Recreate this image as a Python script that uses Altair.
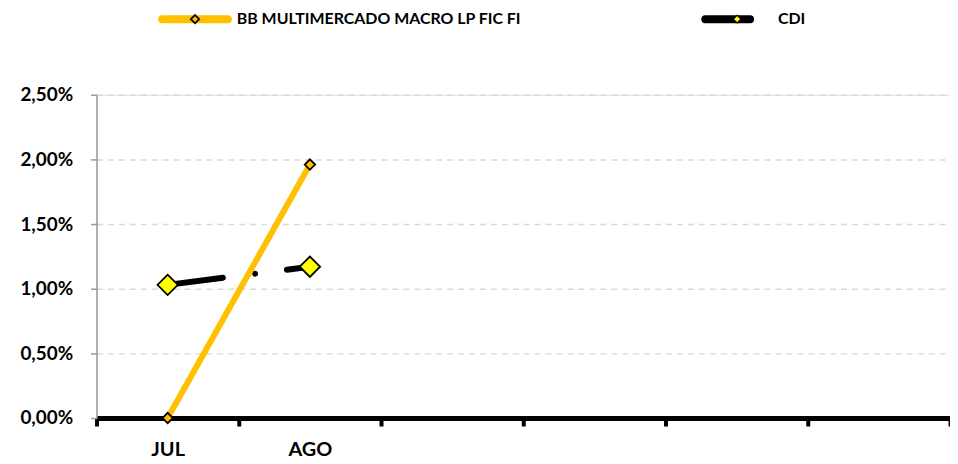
import altair as alt
import pandas as pd

months = ["JUL", "AGO"]
all_months = ["JUL", "AGO", "SET", "OUT", "NOV", "DEZ"]
fund = [0.0, 0.0196]
cdi = [0.0103, 0.0117]
fund_name = "BB MULTIMERCADO MACRO LP FIC FI"
cdi_name = "CDI"

df = pd.DataFrame({"mes": months, "fund": fund, "cdi": cdi})

FONT = "Lato"
x_enc = alt.X(
    "mes:N",
    sort=all_months,
    scale=alt.Scale(domain=all_months, paddingInner=0, paddingOuter=0),
    axis=alt.Axis(
        title=None,
        labelExpr="indexof(['JUL','AGO'], datum.value) >= 0 ? datum.value : ''",
        labelFont=FONT, labelFontSize=20, labelFontWeight="bold", labelColor="#000000",
        labelPadding=14, labelAngle=0,
        domainColor="#000000", domainWidth=5,
        tickColor="#000000", tickWidth=4, tickSize=8, tickBand="extent",
        grid=False,
    ),
)
y_axis = alt.Axis(
    title=None,
    values=[0, 0.005, 0.01, 0.015, 0.02, 0.025],
    labelExpr="replace(format(datum.value, '.2%'), '.', ',')",
    labelFont=FONT, labelFontSize=19, labelFontWeight="bold", labelColor="#000000",
    labelPadding=18,
    domainColor="#9a9a9a", domainWidth=1.5,
    tickColor="#9a9a9a", tickSize=6, tickWidth=1.5,
    grid=True, gridColor="#d9d9d9", gridDash=[6, 5], gridWidth=1.5,
)
y_scale = alt.Scale(domain=[0, 0.025], nice=False)

base = alt.Chart(df)

cdi_line = base.mark_line(
    color="#000000", strokeWidth=6, strokeCap="round",
    strokeDash=[56, 32.6, 0.01, 32.2, 60],
).encode(x=x_enc, y=alt.Y("cdi:Q", scale=y_scale, axis=y_axis))

fund_line = base.mark_line(color="#FFC000", strokeWidth=6).encode(
    x=x_enc, y=alt.Y("fund:Q", scale=y_scale, axis=y_axis)
)

fund_pts = base.mark_point(
    shape="diamond", filled=True, fill="#FFC000", stroke="#000000",
    strokeWidth=1.8, size=110, opacity=1,
).encode(x=x_enc, y=alt.Y("fund:Q", scale=y_scale))

cdi_pts = base.mark_point(
    shape="diamond", filled=True, fill="#FFFF00", stroke="#000000",
    strokeWidth=1.8, size=420, opacity=1,
).encode(x=x_enc, y=alt.Y("cdi:Q", scale=y_scale))

# legend
leg = alt.Chart(pd.DataFrame({"a": [fund_name], "b": [cdi_name]}))
LY = -76
leg_fund_line = leg.mark_rule(color="#FFC000", strokeWidth=8, strokeCap="round").encode(
    x=alt.value(66), x2=alt.value(132), y=alt.value(LY)
)
leg_fund_pt = leg.mark_point(
    shape="diamond", filled=True, fill="#FFC000", stroke="#000000",
    strokeWidth=1.8, size=70, opacity=1,
).encode(x=alt.value(99), y=alt.value(LY))
leg_fund_txt = leg.mark_text(
    align="left", baseline="middle", font=FONT, fontSize=16, fontWeight="bold", color="#000000"
).encode(x=alt.value(141), y=alt.value(LY), text="a:N")

leg_cdi_line = leg.mark_rule(color="#000000", strokeWidth=8, strokeCap="round").encode(
    x=alt.value(612), x2=alt.value(657), y=alt.value(LY)
)
leg_cdi_pt = leg.mark_point(
    shape="diamond", filled=True, fill="#FFFF00", stroke="#000000",
    strokeWidth=1.2, size=60, opacity=1,
).encode(x=alt.value(644), y=alt.value(LY))
leg_cdi_txt = leg.mark_text(
    align="left", baseline="middle", font=FONT, fontSize=16, fontWeight="bold", color="#000000"
).encode(x=alt.value(685), y=alt.value(LY), text="b:N")

chart = alt.layer(
    cdi_line, fund_line, fund_pts, cdi_pts,
    leg_fund_line, leg_fund_pt, leg_fund_txt,
    leg_cdi_line, leg_cdi_pt, leg_cdi_txt,
).properties(
    width=858, height=325,
    autosize=alt.AutoSizeParams(type="none"),
    padding={"left": 89, "top": 86, "right": 0, "bottom": 45},
).configure_view(stroke=None).configure(background="#ffffff")

chart.save("out.html", embed_options={"renderer": "svg", "actions": False})
